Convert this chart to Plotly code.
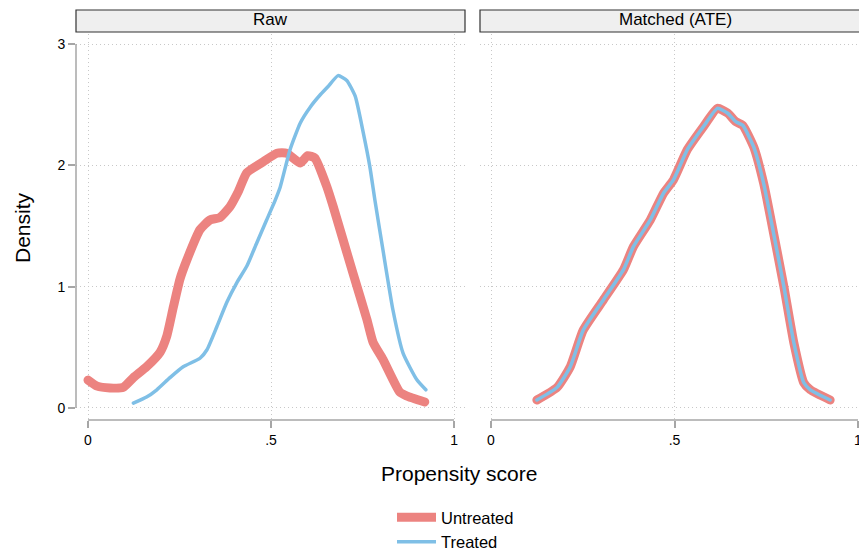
import plotly.graph_objects as go

# ---------------- data ----------------
raw_untreated_x = [0.0, 0.025, 0.06, 0.096, 0.124, 0.16, 0.197, 0.215, 0.233, 0.251, 0.27, 0.306,
                   0.333, 0.36, 0.388, 0.41, 0.434, 0.479, 0.516, 0.543, 0.58, 0.60, 0.62, 0.653,
                   0.67, 0.724, 0.762, 0.779, 0.806, 0.852, 0.87, 0.92]
raw_untreated_y = [0.23, 0.18, 0.165, 0.17, 0.25, 0.34, 0.46, 0.59, 0.83, 1.06, 1.22, 1.47,
                   1.55, 1.57, 1.66, 1.78, 1.94, 2.03, 2.10, 2.10, 2.02, 2.08, 2.06, 1.82,
                   1.66, 1.11, 0.73, 0.54, 0.40, 0.13, 0.10, 0.05]

raw_treated_x = [0.124, 0.16, 0.188, 0.224, 0.26, 0.306, 0.325, 0.352, 0.379, 0.406, 0.434, 0.461,
                 0.488, 0.511, 0.525, 0.552, 0.58, 0.607, 0.634, 0.656, 0.683, 0.707, 0.73, 0.752,
                 0.77, 0.784, 0.806, 0.833, 0.861, 0.899, 0.923]
raw_treated_y = [0.04, 0.09, 0.15, 0.25, 0.34, 0.41, 0.48, 0.67, 0.87, 1.03, 1.17, 1.36,
                 1.55, 1.71, 1.82, 2.13, 2.35, 2.48, 2.58, 2.65, 2.74, 2.70, 2.57, 2.27,
                 1.99, 1.71, 1.30, 0.81, 0.45, 0.23, 0.15]

matched_untreated_x = [0.125, 0.18, 0.216, 0.251, 0.306, 0.361, 0.388, 0.434, 0.47, 0.497, 0.535,
                       0.579, 0.617, 0.645, 0.667, 0.686, 0.716, 0.743, 0.77, 0.798, 0.825, 0.852,
                       0.87, 0.924]
matched_untreated_y = [0.066, 0.17, 0.34, 0.64, 0.89, 1.14, 1.33, 1.55, 1.77, 1.88, 2.13,
                       2.32, 2.47, 2.43, 2.36, 2.33, 2.15, 1.85, 1.44, 1.00, 0.54, 0.21,
                       0.15, 0.066]
matched_treated_x = [0.125, 0.18, 0.216, 0.251, 0.306, 0.361, 0.388, 0.434, 0.47, 0.497, 0.535,
                     0.579, 0.617, 0.645, 0.667, 0.686, 0.716, 0.743, 0.77, 0.798, 0.825, 0.852,
                     0.87, 0.924]
matched_treated_y = [0.066, 0.17, 0.34, 0.64, 0.89, 1.14, 1.33, 1.55, 1.77, 1.88, 2.13,
                     2.32, 2.47, 2.43, 2.36, 2.33, 2.15, 1.85, 1.44, 1.00, 0.54, 0.21,
                     0.15, 0.066]

panel_titles = ["Raw", "Matched (ATE)"]
x_tickvals = [0, 0.5, 1]
x_ticktext = ["0", ".5", "1"]
y_tickvals = [0, 1, 2, 3]
y_ticktext = ["0", "1", "2", "3"]

# ---------------- style ----------------
RED = "#EC8380"
BLUE = "#7FBFE6"
FONT = "Liberation Sans, Arial, Helvetica, sans-serif"
GRID = "#c8c8c8"
AX = "#a6a6a6"
W, H = 859, 554

def px(x):
    return x / W

def py(y):
    return 1 - y / H

fig = go.Figure()

fig.add_trace(go.Scatter(x=raw_untreated_x, y=raw_untreated_y, mode="lines", name="Untreated",
                         line=dict(color=RED, width=9, shape="spline", smoothing=0.5),
                         xaxis="x", yaxis="y", legendgroup="u"))
fig.add_trace(go.Scatter(x=raw_treated_x, y=raw_treated_y, mode="lines", name="Treated",
                         line=dict(color=BLUE, width=3.5, shape="spline", smoothing=0.5),
                         xaxis="x", yaxis="y", legendgroup="t"))
fig.add_trace(go.Scatter(x=matched_untreated_x, y=matched_untreated_y, mode="lines", name="Untreated",
                         line=dict(color=RED, width=9, shape="spline", smoothing=0.5),
                         xaxis="x2", yaxis="y2", showlegend=False, legendgroup="u"))
fig.add_trace(go.Scatter(x=matched_treated_x, y=matched_treated_y, mode="lines", name="Treated",
                         line=dict(color=BLUE, width=3.5, shape="spline", smoothing=0.5),
                         xaxis="x2", yaxis="y2", showlegend=False, legendgroup="t"))

ydom = [py(420), py(34)]
xdom1 = [px(76), px(465)]
xdom2 = [px(480), 1.0]

common_x = dict(range=[-0.0328, 1.030], tickvals=x_tickvals, ticktext=x_ticktext,
                showgrid=True, gridcolor=GRID, griddash="1px,3px", gridwidth=1,
                zeroline=False, showline=False, ticks="outside", ticklen=7, tickwidth=1.5,
                tickcolor=AX, tickfont=dict(family=FONT, size=14, color="black"), automargin=False,
                ticklabeloverflow="allow")
common_y = dict(range=[-0.099, 3.083], tickvals=y_tickvals, ticktext=y_ticktext,
                showgrid=True, gridcolor=GRID, griddash="1px,3px", gridwidth=1,
                zeroline=False, showline=False, domain=ydom, automargin=False)

layout = dict(
    width=W, height=H, margin=dict(l=0, r=0, t=0, b=0, autoexpand=False),
    paper_bgcolor="white", plot_bgcolor="white",
    xaxis=dict(domain=xdom1, anchor="y", **common_x),
    xaxis2=dict(domain=xdom2, anchor="y2", **{**common_x, "range": [-0.030, 1.0027]}),
    yaxis=dict(anchor="x", ticks="outside", ticklen=7, tickwidth=1.5, tickcolor=AX,
               tickfont=dict(family=FONT, size=14, color="black"), **common_y),
    yaxis2=dict(anchor="x2", showticklabels=False, ticks="", **common_y),
    showlegend=True,
    legend=dict(orientation="v", x=px(392), xanchor="left", y=-5 / H, yanchor="bottom",
                font=dict(family=FONT, size=16.5, color="black"), traceorder="grouped",
                tracegroupgap=0, itemwidth=39, bgcolor="rgba(0,0,0,0)"),
    font=dict(family=FONT, color="black"),
)
fig.update_layout(**layout)

shapes = []
# header boxes
shapes.append(dict(type="rect", xref="paper", yref="paper", x0=px(76), x1=px(465), y0=py(32), y1=py(10),
                   fillcolor="#efefef", line=dict(color="#333333", width=1.2), layer="below"))
shapes.append(dict(type="rect", xref="paper", yref="paper", x0=px(480), x1=px(866), y0=py(32), y1=py(10),
                   fillcolor="#efefef", line=dict(color="#333333", width=1.2), layer="below"))
# axis lines spanning only the data span (Stata style)
shapes.append(dict(type="line", xref="x", yref="y domain", x0=0, x1=1, y0=0, y1=0,
                   line=dict(color=AX, width=1.5)))
shapes.append(dict(type="line", xref="x2", yref="y2 domain", x0=0, x1=1, y0=0, y1=0,
                   line=dict(color=AX, width=1.5)))
shapes.append(dict(type="line", xref="x domain", yref="y", x0=0, x1=0, y0=0, y1=3,
                   line=dict(color=AX, width=1.5)))
fig.update_layout(shapes=shapes)

annotations = [
    dict(text=panel_titles[0], xref="paper", yref="paper", x=px(270.5), y=py(20),
         showarrow=False, font=dict(family=FONT, size=17, color="black"), xanchor="center", yanchor="middle"),
    dict(text=panel_titles[1], xref="paper", yref="paper", x=px(675), y=py(20),
         showarrow=False, font=dict(family=FONT, size=17, color="black"), xanchor="center", yanchor="middle"),
    dict(text="Propensity score", xref="paper", yref="paper", x=px(459), y=py(473),
         showarrow=False, font=dict(family=FONT, size=21, color="black"), xanchor="center", yanchor="middle"),
    dict(text="Density", xref="paper", yref="paper", x=px(22), y=py(228), textangle=-90,
         showarrow=False, font=dict(family=FONT, size=21, color="black"), xanchor="center", yanchor="middle"),
]
fig.update_layout(annotations=annotations)

post = (
    "document.body.style.margin='0';document.body.style.overflow='hidden';"
    "var s=document.createElement('style');"
    "s.textContent='.scatterlayer .js-line{stroke-linecap:round;stroke-linejoin:round;}';"
    "document.head.appendChild(s);"
)
fig.write_html("out.html", config={"displayModeBar": False}, post_script=post)
